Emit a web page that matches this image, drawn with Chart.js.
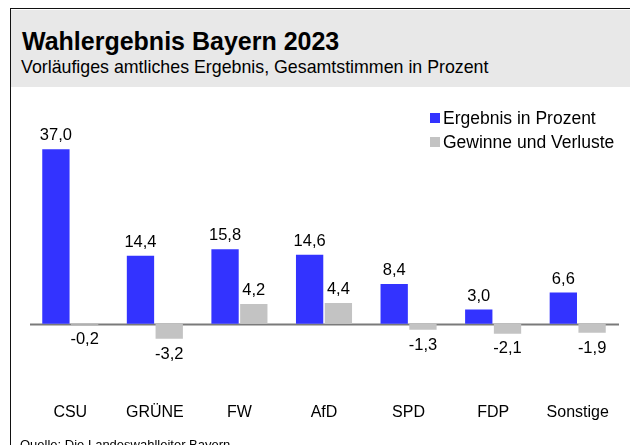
<!DOCTYPE html>
<html lang="de">
<head>
<meta charset="utf-8">
<title>Wahlergebnis Bayern 2023</title>
<script src="https://cdn.jsdelivr.net/npm/chart.js@4.4.0/dist/chart.umd.min.js"></script>
<style>
  html, body { margin: 0; padding: 0; background: #fff; }
  body { width: 630px; height: 445px; overflow: hidden; position: relative;
         font-family: "Liberation Sans", Arial, sans-serif; color: #000; }
  #frame { position: absolute; left: 10px; top: 8px; width: 630px; height: 450px;
           border-left: 1.5px solid #111; border-top: 1.5px solid #111; }
  #head { position: absolute; left: 11px; top: 10px; width: 620px; height: 77px; background: #e8e8e8; }
  #title { position: absolute; left: 22px; top: 28.5px; font-size: 25px; line-height: 1; font-weight: bold; white-space: nowrap; }
  #sub { position: absolute; left: 21px; top: 58.5px; font-size: 17.8px; line-height: 1; white-space: nowrap; }
  #src { position: absolute; left: 20px; top: 438px; font-size: 13px; line-height: 1; white-space: nowrap; }
  #chart { position: absolute; left: 12px; top: 88px; }
</style>
</head>
<body>
<div id="frame"></div>
<div id="head"></div>
<div id="title">Wahlergebnis Bayern 2023</div>
<div id="sub">Vorläufiges amtliches Ergebnis, Gesamtstimmen in Prozent</div>
<canvas id="chart" width="618" height="350"></canvas>
<div id="src">Quelle: Die Landeswahlleiter Bayern</div>
<script>
var parties = ['CSU', 'GRÜNE', 'FW', 'AfD', 'SPD', 'FDP', 'Sonstige'];
var ergebnis = [37.0, 14.4, 15.8, 14.6, 8.4, 3.0, 6.6];
var veraenderung = [-0.2, -3.2, 4.2, 4.4, -1.3, -2.1, -1.9];
var seriesNames = ['Ergebnis in Prozent', 'Gewinne und Verluste'];
var seriesColors = ['#3333ff', '#c3c3c3'];

function fmt(v) {
	return v.toFixed(1).replace('.', ',');
}

// zero line
var baseLine = {
	id: 'baseLine',
	beforeDatasetsDraw: function(chart) {
		var ctx = chart.ctx, a = chart.chartArea;
		var y = Math.round(chart.scales.y.getPixelForValue(0)) + 0.5;
		ctx.save();
		ctx.strokeStyle = '#7a7a7a';
		ctx.lineWidth = 2;
		ctx.beginPath();
		ctx.moveTo(a.left + 2, y);
		ctx.lineTo(a.right - 1, y);
		ctx.stroke();
		ctx.restore();
	}
};

// value labels above / below bars
var valueLabels = {
	id: 'valueLabels',
	afterDatasetsDraw: function(chart) {
		var ctx = chart.ctx;
		ctx.save();
		ctx.font = '16.5px "Liberation Sans", Arial, sans-serif';
		ctx.fillStyle = '#000';
		ctx.textAlign = 'center';
		chart.data.datasets.forEach(function(ds, i) {
			chart.getDatasetMeta(i).data.forEach(function(bar, j) {
				var v = ds.data[j];
				if (v >= 0) {
					ctx.textBaseline = 'bottom';
					ctx.fillText(fmt(v), bar.x, bar.y - 5);
				} else {
					ctx.textBaseline = 'top';
					ctx.fillText(fmt(v), bar.x, bar.y + 7);
				}
			});
		});
		ctx.restore();
	}
};

// legend, stacked at top right
var boxLegend = {
	id: 'boxLegend',
	afterDraw: function(chart) {
		var ctx = chart.ctx;
		ctx.save();
		ctx.font = '17.5px "Liberation Sans", Arial, sans-serif';
		ctx.textBaseline = 'middle';
		ctx.textAlign = 'left';
		chart.data.datasets.forEach(function(ds, i) {
			var y = 30 + i * 24;
			ctx.fillStyle = ds.backgroundColor;
			ctx.fillRect(418, y - 5, 10, 10);
			ctx.fillStyle = '#000';
			ctx.fillText(ds.label, 431, y + 1);
		});
		ctx.restore();
	}
};

new Chart(document.getElementById('chart'), {
	type: 'bar',
	data: {
		labels: parties,
		datasets: [{
			label: seriesNames[0],
			data: ergebnis,
			backgroundColor: seriesColors[0],
			categoryPercentage: 0.68,
			barPercentage: 0.95
		}, {
			label: seriesNames[1],
			data: veraenderung,
			backgroundColor: seriesColors[1],
			categoryPercentage: 0.68,
			barPercentage: 0.95
		}]
	},
	options: {
		responsive: false,
		devicePixelRatio: 1,
		animation: false,
		layout: { padding: { left: 16, right: 10, top: 47, bottom: 11 } },
		plugins: {
			legend: { display: false },
			tooltip: { enabled: false }
		},
		scales: {
			x: {
				grid: { display: false },
				border: { display: false },
				ticks: {
					color: '#000',
					padding: 5,
					font: { family: '"Liberation Sans", Arial, sans-serif', size: 16 }
				}
			},
			y: {
				display: false,
				min: -14,
				max: 40
			}
		}
	},
	plugins: [baseLine, valueLabels, boxLegend]
});
</script>
</body>
</html>
